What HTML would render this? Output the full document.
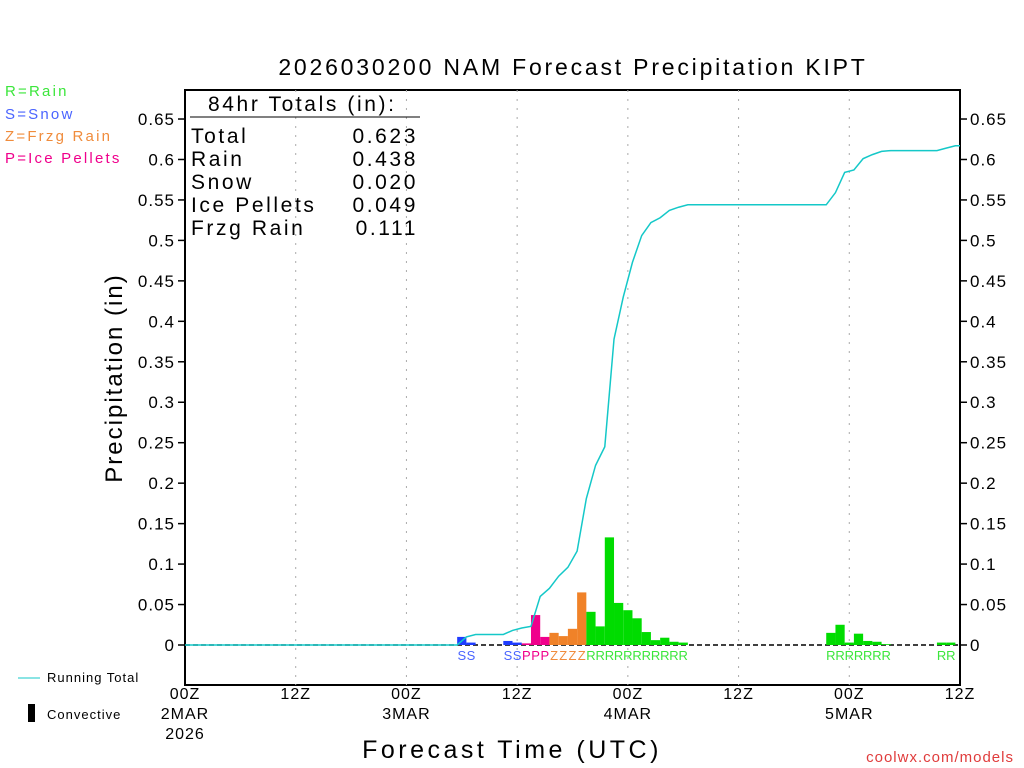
<!DOCTYPE html>
<html><head><meta charset="utf-8"><style>
body{margin:0;background:#fff;}
svg{display:block;font-family:"Liberation Sans",sans-serif;}
</style></head><body>
<svg id="c" width="1024" height="768">
<g id="g"></g>
</svg>
<script>
const hours=[30,31,35,36,37,38,39,40,41,42,43,44,45,46,47,48,49,50,51,52,53,54,70,71,72,73,74,75,76,82,83];
const values=[0.010,0.003,0.005,0.003,0.002,0.037,0.010,0.015,0.011,0.020,0.065,0.041,0.023,0.133,0.052,0.043,0.033,0.016,0.006,0.009,0.004,0.003,0.015,0.025,0.003,0.014,0.005,0.004,0.001,0.003,0.003];
const types=["S","S","S","S","P","P","P","Z","Z","Z","Z","R","R","R","R","R","R","R","R","R","R","R","R","R","R","R","R","R","R","R","R"];
const yTicks=[0,0.05,0.1,0.15,0.2,0.25,0.3,0.35,0.4,0.45,0.5,0.55,0.6,0.65];
const xTickHours=[0,12,24,36,48,60,72,84];
const xTickLabels=["00Z","12Z","00Z","12Z","00Z","12Z","00Z","12Z"];
const xDateLabels=["2MAR","","3MAR","","4MAR","","5MAR",""];
const colors={R:"#00dc00",S:"#1e3cff",P:"#f0008c",Z:"#f08228"};
const textColors={R:"#3ce63c",S:"#4a64ff",P:"#f0008c",Z:"#f08c3c"};
const X=h=>185+h*775/84, Y=v=>645-v*809.2;
const NS="http://www.w3.org/2000/svg", g=document.getElementById('g');
function el(t,a,txt){const e=document.createElementNS(NS,t);for(const k in a)e.setAttribute(k,a[k]);if(txt!==undefined)e.textContent=txt;g.appendChild(e);return e;}
let e=el('rect',{x:185,y:90,width:775,height:595,fill:'none',stroke:'#000','stroke-width':2});


xTickHours.forEach((h,i)=>{
 if(h>0&&h<84&&h%12==0){const l=el('line',{x1:X(h),x2:X(h),y1:90,y2:685,stroke:'#aaa','stroke-dasharray':'2,7'});
 
 }
 const t=el('text',{x:X(h),y:699,'text-anchor':'middle','font-size':16,'letter-spacing':1},xTickLabels[i]);
 
 
 if(xDateLabels[i]){const d=el('text',{x:X(h),y:719,'text-anchor':'middle','font-size':16,'letter-spacing':1},xDateLabels[i]);
 
 }
});
e=el('text',{x:X(0),y:739,'text-anchor':'middle','font-size':16,'letter-spacing':1},'2026');


yTicks.forEach(v=>{
 const lab=v==0?'0':String(v);
 const a=el('text',{x:175,y:Y(v)+6,'text-anchor':'end','font-size':17,'letter-spacing':1},lab);
 
 
 const b=el('text',{x:970,y:Y(v)+6,'font-size':17,'letter-spacing':1},lab);
 
 
 el('line',{x1:178,x2:185,y1:Y(v),y2:Y(v),stroke:'#000','stroke-width':1.5});
 el('line',{x1:960,x2:967,y1:Y(v),y2:Y(v),stroke:'#000','stroke-width':1.5});
});
e=el('line',{x1:185,x2:960,y1:645,y2:645,stroke:'#000','stroke-width':1.5,'stroke-dasharray':'5,3'});


const w=775/84;
hours.forEach((h,i)=>{
 const r=el('rect',{x:X(h)-w/2,y:Y(values[i]),width:w,height:645-Y(values[i]),fill:colors[types[i]]});
 
 
 const t=el('text',{x:X(h),y:660,'text-anchor':'middle','font-size':13,fill:textColors[types[i]]},types[i]);
 
 
});
let cum=0,pts=[[X(0),Y(0)],[X(hours[0]-0.5),Y(0)]];
hours.forEach((h,i)=>{
 if(i>0&&hours[i-1]!==h-1)pts.push([X(h-0.5),Y(cum)]);
 cum+=values[i];pts.push([X(h+0.5),Y(cum)]);
});
pts.push([X(84),Y(cum)]);
e=el('polyline',{points:pts.map(p=>p.join(',')).join(' '),fill:'none',stroke:'#14c8c8','stroke-width':1.5});


</script>
<svg width="1024" height="768" style="position:absolute;left:0;top:0">
<text x="573" y="75" text-anchor="middle" font-size="23" letter-spacing="2.8">2026030200 NAM Forecast Precipitation KIPT</text>
<text transform="translate(122,378) rotate(-90)" text-anchor="middle" font-size="24" letter-spacing="2">Precipitation (in)</text>
<text x="512" y="758" text-anchor="middle" font-size="25" letter-spacing="3.5">Forecast Time (UTC)</text>
<text x="1014" y="762" text-anchor="end" font-size="15" letter-spacing="1" fill="#e03c3c">coolwx.com/models</text>
<g font-size="15" letter-spacing="2.2">
<text x="5" y="96" fill="#3ce63c">R=Rain</text>
<text x="5" y="119" fill="#4a64ff">S=Snow</text>
<text x="5" y="141" fill="#f08c3c">Z=Frzg Rain</text>
<text x="5" y="163" fill="#f0008c">P=Ice Pellets</text>
</g>
<g font-size="21" letter-spacing="2.6">
<text x="208" y="111">84hr Totals (in):</text>
<line x1="190" x2="420" y1="117" y2="117" stroke="#000"/>
<text x="191" y="143">Total</text><text x="418" y="143" text-anchor="end">0.623</text>
<text x="191" y="166">Rain</text><text x="418" y="166" text-anchor="end">0.438</text>
<text x="191" y="189">Snow</text><text x="418" y="189" text-anchor="end">0.020</text>
<text x="191" y="212">Ice Pellets</text><text x="418" y="212" text-anchor="end">0.049</text>
<text x="191" y="235">Frzg Rain</text><text x="418" y="235" text-anchor="end">0.111</text>
</g>
<g font-size="13" letter-spacing="1">
<line x1="18" x2="40" y1="678" y2="678" stroke="#14c8c8"/>
<text x="47" y="682">Running Total</text>
<rect x="28" y="704" width="7" height="18" fill="#000"/>
<text x="47" y="719">Convective</text>
</g>
</svg>
</body></html>
